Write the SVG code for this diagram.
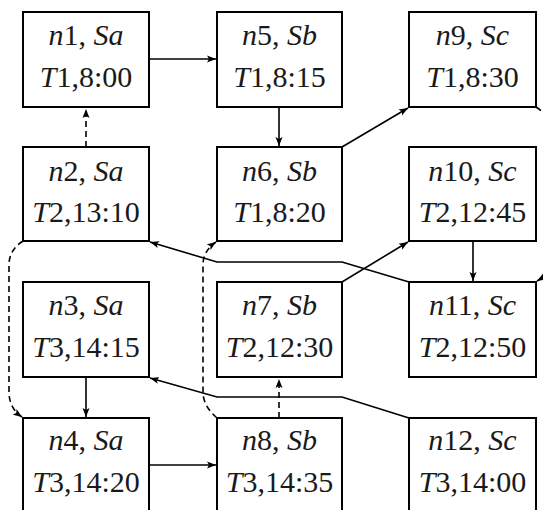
<svg xmlns="http://www.w3.org/2000/svg" width="543" height="510" viewBox="0 0 543 510">
<style>
.box{fill:#fff;stroke:#000;stroke-width:2}
.t{font-size:30px;fill:#1a1a1a;text-anchor:middle}
.i{font-style:italic}
.e{fill:none;stroke:#000;stroke-width:1.6}
.d{stroke-dasharray:6,4}
</style>
<defs>
<marker id="ah" markerWidth="10" markerHeight="8" refX="9" refY="4" orient="auto" markerUnits="userSpaceOnUse">
<path d="M0,0.5 L9,4 L0,7.5 L2,4 Z" fill="#000"/>
</marker>
</defs>
<rect width="543" height="510" fill="#fff"/>
<g id="edges">
<path class="e" d="M149,59 L216,59" marker-end="url(#ah)"/>
<path class="e d" d="M86,147 L86,109" marker-end="url(#ah)"/>
<path class="e" d="M279,107 L279,146" marker-end="url(#ah)"/>
<path class="e" d="M342,147 L408,108" marker-end="url(#ah)"/>
<path class="e" d="M409,282 L342,262 L217,262 L150,242" marker-end="url(#ah)"/>
<path class="e" d="M342,282 L408,242" marker-end="url(#ah)"/>
<path class="e" d="M473,241 L473,281" marker-end="url(#ah)"/>
<path class="e" d="M86,377 L86,417" marker-end="url(#ah)"/>
<path class="e" d="M149,465 L216,465" marker-end="url(#ah)"/>
<path class="e d" d="M279,418 L279,379" marker-end="url(#ah)"/>
<path class="e" d="M409,418 L342,397 L217,397 L150,378" marker-end="url(#ah)"/>
<path class="e d" d="M23,241 Q9,250 9,265 L9,392 Q9,408 22,417" marker-end="url(#ah)"/>
<path class="e d" d="M217,418 Q203,406 203,392 L203,265 Q203,251 216,242" marker-end="url(#ah)"/>
<path class="e d" d="M536,107 Q551,117 551,131 L551,259 Q551,273 537,281" marker-end="url(#ah)"/>
</g>
<g id="nodes" font-family="Liberation Serif, DejaVu Serif, serif">
<g id="n1"><rect class="box" x="23" y="12" width="126" height="95"/><text class="t" x="86" y="45"><tspan class="i">n</tspan>1, <tspan class="i">Sa</tspan></text><text class="t" x="86" y="87"><tspan class="i">T</tspan>1,8:00</text></g>
<g id="n2"><rect class="box" x="23" y="147" width="126" height="94"/><text class="t" x="86" y="181"><tspan class="i">n</tspan>2, <tspan class="i">Sa</tspan></text><text class="t" x="86" y="222"><tspan class="i">T</tspan>2,13:10</text></g>
<g id="n3"><rect class="box" x="23" y="282" width="126" height="95"/><text class="t" x="86" y="315"><tspan class="i">n</tspan>3, <tspan class="i">Sa</tspan></text><text class="t" x="86" y="357"><tspan class="i">T</tspan>3,14:15</text></g>
<g id="n4"><rect class="box" x="23" y="418" width="126" height="95"/><text class="t" x="86" y="450"><tspan class="i">n</tspan>4, <tspan class="i">Sa</tspan></text><text class="t" x="86" y="492"><tspan class="i">T</tspan>3,14:20</text></g>
<g id="n5"><rect class="box" x="217" y="12" width="125" height="95"/><text class="t" x="279.5" y="45"><tspan class="i">n</tspan>5, <tspan class="i">Sb</tspan></text><text class="t" x="279.5" y="87"><tspan class="i">T</tspan>1,8:15</text></g>
<g id="n6"><rect class="box" x="217" y="147" width="125" height="94"/><text class="t" x="279.5" y="181"><tspan class="i">n</tspan>6, <tspan class="i">Sb</tspan></text><text class="t" x="279.5" y="222"><tspan class="i">T</tspan>1,8:20</text></g>
<g id="n7"><rect class="box" x="217" y="282" width="125" height="95"/><text class="t" x="279.5" y="315"><tspan class="i">n</tspan>7, <tspan class="i">Sb</tspan></text><text class="t" x="279.5" y="357"><tspan class="i">T</tspan>2,12:30</text></g>
<g id="n8"><rect class="box" x="217" y="418" width="125" height="95"/><text class="t" x="279.5" y="450"><tspan class="i">n</tspan>8, <tspan class="i">Sb</tspan></text><text class="t" x="279.5" y="492"><tspan class="i">T</tspan>3,14:35</text></g>
<g id="n9"><rect class="box" x="409" y="12" width="127" height="95"/><text class="t" x="472.5" y="45"><tspan class="i">n</tspan>9, <tspan class="i">Sc</tspan></text><text class="t" x="472.5" y="87"><tspan class="i">T</tspan>1,8:30</text></g>
<g id="n10"><rect class="box" x="409" y="147" width="127" height="94"/><text class="t" x="472.5" y="181"><tspan class="i">n</tspan>10, <tspan class="i">Sc</tspan></text><text class="t" x="472.5" y="222"><tspan class="i">T</tspan>2,12:45</text></g>
<g id="n11"><rect class="box" x="409" y="282" width="127" height="95"/><text class="t" x="472.5" y="315"><tspan class="i">n</tspan>11, <tspan class="i">Sc</tspan></text><text class="t" x="472.5" y="357"><tspan class="i">T</tspan>2,12:50</text></g>
<g id="n12"><rect class="box" x="409" y="418" width="127" height="95"/><text class="t" x="472.5" y="450"><tspan class="i">n</tspan>12, <tspan class="i">Sc</tspan></text><text class="t" x="472.5" y="492"><tspan class="i">T</tspan>3,14:00</text></g>
</g>
</svg>
